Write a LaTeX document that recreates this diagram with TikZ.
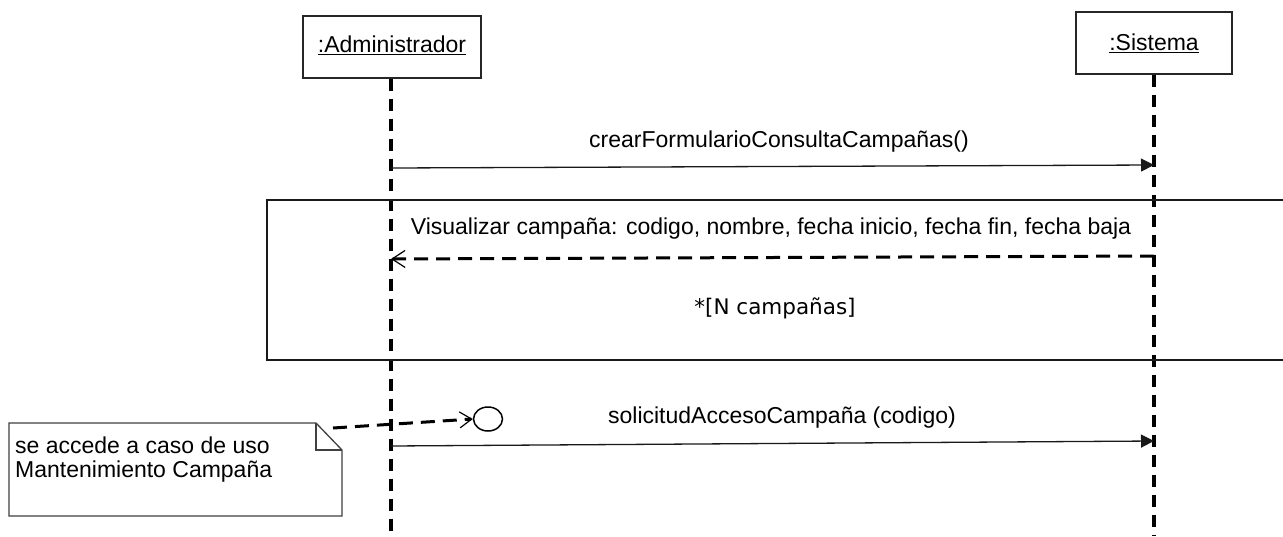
\documentclass[tikz,border=0pt]{standalone}
\usepackage{fontspec}
\setmainfont{Liberation Sans}
\newfontfamily\dvfont{DejaVu Sans}
\usetikzlibrary{arrows.meta,shapes.geometric}
\tikzset{
  headbox/.style={draw=black!85, line width=1.3pt, fill=white, inner sep=0pt, minimum height=62pt},
  lifeline/.style={line width=3.2pt, dash pattern=on 12pt off 8pt, black},
  callmsg/.style={line width=1.3pt, black!90, -{Triangle[length=13pt,width=13pt]}},
  retmsg/.style={line width=3pt, dash pattern=on 14pt off 8pt, black, -{Straight Barb[length=13pt,width=17pt,line width=1.2pt]}},
  lbl/.style={font=\fontsize{23}{26}\selectfont, inner sep=0pt, anchor=center},
  framebox/.style={line width=2.2pt, black!90},
  notebox/.style={line width=1.3pt, black!75},
  linkmsg/.style={line width=3pt, dash pattern=on 14pt off 8pt, black, -{Straight Barb[length=12pt,width=16pt,line width=1.2pt]}},
}
\begin{document}
\begin{tikzpicture}[x=1pt,y=-1pt]
\useasboundingbox[fill=white] (0,0) rectangle (1283,536);
% headers
\node[headbox, minimum width=178pt] (admin) at (392,47) {};
\node[lbl] (admintxt) at (392,45) {\underline{:Administrador}};
\node[headbox, minimum width=156pt] (sis) at (1154,43) {};
\node[lbl] (sistxt) at (1154,43) {\underline{:Sistema}};
% lifelines
\coordinate (aend) at (391,536);
\coordinate (send) at (1154,536);
\draw[lifeline] (admin.south -| aend) -- (aend);
\draw[lifeline] (sis.south -| send) -- (send);
% message 1
\coordinate (m1a) at (391,168);
\coordinate (m1b) at (1154,165);
\draw[callmsg] (m1a) -- (m1b);
\node[lbl] (m1lbl) at (779,142) {crearFormularioConsultaCampañas()};
% loop frame
\coordinate (fTL) at (267,200);
\coordinate (fBL) at (267,360);
\draw[framebox] (1290,200) -- (fTL) -- (fBL) -- (1290,360);
% return message
\coordinate (r1a) at (1154,256);
\coordinate (r1b) at (391,259);
\draw[retmsg] (r1a) -- (r1b);
\node[lbl] (r1lbl) at (771,229) {Visualizar campaña: codigo, nombre, fecha inicio, fecha fin, fecha baja};
\node[font=\dvfont\fontsize{21.5}{24}\selectfont, inner sep=0pt] (loop) at (775,308) {*[N campañas]};
% message 2
\coordinate (m2a) at (391,446);
\coordinate (m2b) at (1154,441);
\draw[callmsg] (m2a) -- (m2b);
\node[lbl] (m2lbl) at (782,418) {solicitudAccesoCampaña (codigo)};
% circle
\node[draw=black, line width=1.5pt, ellipse, minimum width=29pt, minimum height=24pt, inner sep=0pt] (ev) at (488,419) {};
% note
\coordinate (nTL) at (9,423);
\coordinate (nF1) at (316,423);
\coordinate (nF2) at (342,450);
\coordinate (nBR) at (342,516);
\draw[notebox, fill=white] (nTL) -- (nF1) -- (nF2) -- (nBR) -- (9,516) -- cycle;
\draw[notebox] (nF1) -- (316,450) -- (nF2);
\node[anchor=north west, inner sep=0pt, align=left, font=\fontsize{23}{23.5}\selectfont] (note) at (15,437) {se accede a caso de uso\\Mantenimiento Campaña};
\coordinate (nlink) at (333,428);
\draw[linkmsg] (nlink) -- (ev.west);
\end{tikzpicture}
\end{document}
